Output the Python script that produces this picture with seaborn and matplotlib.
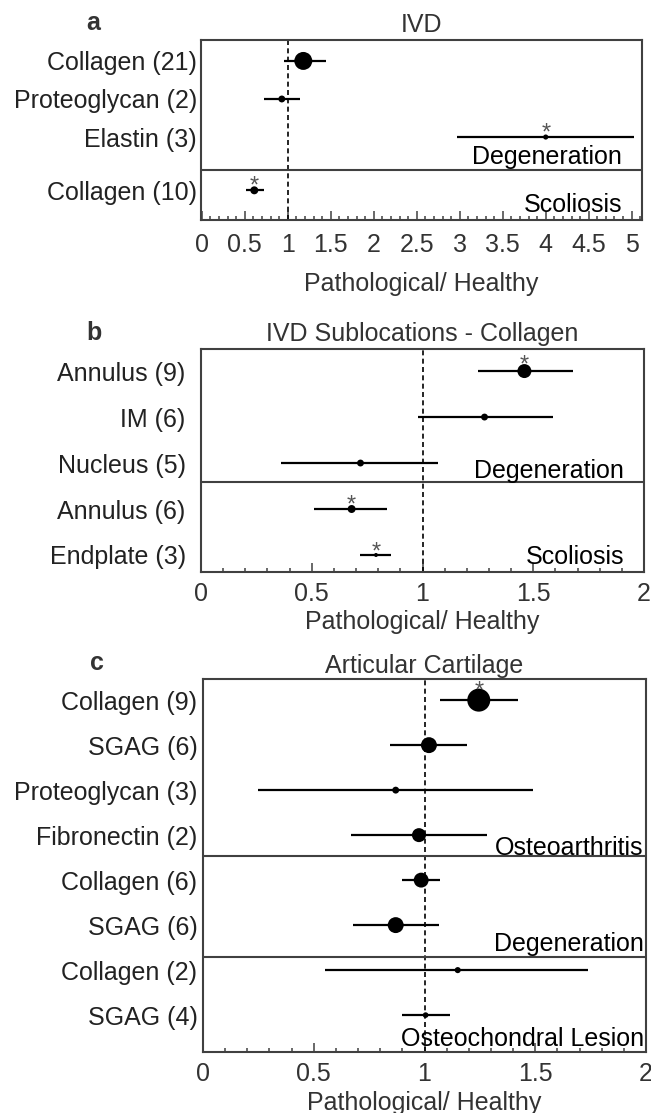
import numpy as np
import pandas as pd
import matplotlib
matplotlib.use("Agg")
import matplotlib.pyplot as plt
import matplotlib.transforms as mtransforms
from matplotlib.ticker import MultipleLocator, FuncFormatter
import seaborn as sns

# ---------------- data ----------------
a_title = "IVD"
a_labels = ["Collagen (21)", "Proteoglycan (2)", "Elastin (3)", "Collagen (10)"]
a_groups = ["Degeneration", "Degeneration", "Degeneration", "Scoliosis"]
a_est = [1.18, 0.93, 4.00, 0.61]
a_lo = [0.95, 0.72, 2.97, 0.51]
a_hi = [1.44, 1.14, 5.03, 0.72]
a_sig = [False, False, True, True]
a_weight = [61, 9, 5, 12]

b_title = "IVD Sublocations - Collagen"
b_labels = ["Annulus (9)", "IM (6)", "Nucleus (5)", "Annulus (6)", "Endplate (3)"]
b_groups = ["Degeneration", "Degeneration", "Degeneration", "Scoliosis", "Scoliosis"]
b_est = [1.46, 1.28, 0.72, 0.68, 0.79]
b_lo = [1.25, 0.98, 0.36, 0.51, 0.72]
b_hi = [1.68, 1.59, 1.07, 0.84, 0.86]
b_sig = [True, False, False, True, True]
b_weight = [37, 9, 9, 12, 3]

c_title = "Articular Cartilage"
c_labels = ["Collagen (9)", "SGAG (6)", "Proteoglycan (3)", "Fibronectin (2)",
            "Collagen (6)", "SGAG (6)", "Collagen (2)", "SGAG (4)"]
c_groups = ["Osteoarthritis"] * 4 + ["Degeneration"] * 2 + ["Osteochondral Lesion"] * 2
c_est = [1.245, 1.02, 0.87, 0.975, 0.985, 0.87, 1.15, 1.005]
c_lo = [1.07, 0.845, 0.25, 0.67, 0.90, 0.675, 0.55, 0.90]
c_hi = [1.42, 1.19, 1.49, 1.28, 1.07, 1.065, 1.74, 1.115]
c_sig = [True, False, False, False, False, False, False, False]
c_weight = [100, 48, 9, 37, 42, 48, 7, 6]

x_label = "Pathological/ Healthy"

# ---------------- style ----------------
sns.set_theme(style="white")
plt.rcParams["font.family"] = ["Liberation Sans", "DejaVu Sans"]

W, H = 651, 1113
fig = plt.figure(figsize=(W / 100, H / 100), dpi=100)
FS = 18
TXT = "#333333"
SPINE = "#404040"


def make_axes(l, r, t, b):
    return fig.add_axes([l / W, 1 - b / H, (r - l) / W, (b - t) / H])


def panel(box, letter, letter_xy, title, title_pad, labels, groups, est, lo, hi, sig,
          weight, rows, ylim, xlim, seps, group_base, group_x, ylab_pad, xlab_y, tick_pad):
    ax = make_axes(*box)
    df = pd.DataFrame(dict(label=labels, group=groups, est=est, lo=lo, hi=hi,
                           sig=sig, weight=weight, row=rows))
    ax.axvline(1, color="black", ls=(0, (3, 2)), lw=1.2, zorder=1)
    for s in seps:
        ax.axhline(s, color=SPINE, lw=1.5, zorder=1)
    ax.hlines(df["row"], df["lo"], df["hi"], color="black", lw=1.6, zorder=2)
    sns.scatterplot(data=df, x="est", y="row", size="weight", sizes=(0, 274),
                    size_norm=(0, 100), color="black", edgecolor="none",
                    legend=False, ax=ax, zorder=3)
    # significance stars
    for _, r in df[df["sig"]].iterrows():
        rad_px = 23 * np.sqrt(r["weight"] / 100) / 2
        off_px = 0.6 * rad_px + 1.5
        ax.annotate("*", (r["est"], r["row"]), xytext=(0, off_px * 0.72),
                    textcoords="offset points", ha="center", va="center",
                    fontsize=17, color="#555555", zorder=4)
    ax.set_xlim(*xlim)
    ax.set_ylim(*ylim)
    ax.set_yticks(df["row"])
    ax.set_yticklabels(df["label"], fontsize=FS, color="#222222")
    ax.set_ylabel("")
    ax.tick_params(axis="y", length=0, pad=ylab_pad, left=False)
    ax.xaxis.set_major_locator(MultipleLocator(0.5))
    ax.xaxis.set_minor_locator(MultipleLocator(0.1))
    ax.xaxis.set_major_formatter(FuncFormatter(lambda v, _: f"{v:g}"))
    ax.tick_params(axis="x", which="both", direction="in", bottom=True, top=False,
                   color=SPINE, width=1.1, labelsize=FS, labelcolor=TXT, pad=tick_pad)
    ax.tick_params(axis="x", which="major", length=6.5)
    ax.tick_params(axis="x", which="minor", length=3)
    for sp in ax.spines.values():
        sp.set_visible(True)
        sp.set_color(SPINE)
        sp.set_linewidth(1.5)
    ax.set_xlabel(x_label, fontsize=FS, color=TXT)
    ax.xaxis.set_label_coords(0.5, xlab_y)
    ax.set_title(title, fontsize=FS, color=TXT, pad=title_pad)
    trans = mtransforms.blended_transform_factory(ax.transAxes, ax.transData)
    for gname, yb in zip(dict.fromkeys(groups), group_base):
        ax.text(group_x, yb, gname, transform=trans, ha="right", va="baseline",
                fontsize=FS, color="black", zorder=5)
    fig.text(letter_xy[0] / W, 1 - letter_xy[1] / H, letter, ha="center", va="center",
             fontsize=18, fontweight="bold", color=TXT)
    ax.grid(False)
    return ax


panel(box=(201, 642, 40, 220), letter="a", letter_xy=(93, 23), title=a_title, title_pad=5.5,
      labels=a_labels, groups=a_groups, est=a_est, lo=a_lo, hi=a_hi, sig=a_sig,
      weight=a_weight, rows=[0, 1, 2, 3.4], ylim=(4.18, -0.55), xlim=(-0.01, 5.12),
      seps=[2.87], group_base=[2.71, 3.97], group_x=0.955, ylab_pad=3,
      xlab_y=-0.29, tick_pad=9)

panel(box=(201, 644, 349, 572), letter="b", letter_xy=(94, 333), title=b_title, title_pad=5.5,
      labels=b_labels, groups=b_groups, est=b_est, lo=b_lo, hi=b_hi, sig=b_sig,
      weight=b_weight, rows=[0, 1, 2, 3, 4], ylim=(4.37, -0.48), xlim=(0, 2),
      seps=[2.41], group_base=[2.33, 4.2], group_x=0.955, ylab_pad=11,
      xlab_y=-0.17, tick_pad=7)

panel(box=(203, 646, 679, 1052), letter="c", letter_xy=(97, 663), title=c_title, title_pad=4.5,
      labels=c_labels, groups=c_groups, est=c_est, lo=c_lo, hi=c_hi, sig=c_sig,
      weight=c_weight, rows=[0, 1, 2, 3, 4, 5, 6, 7], ylim=(7.82, -0.47), xlim=(0, 2),
      seps=[3.47, 5.71], group_base=[3.44, 5.58, 7.69], group_x=0.995, ylab_pad=4,
      xlab_y=-0.105, tick_pad=7)

fig.savefig("out.png", dpi=100)
